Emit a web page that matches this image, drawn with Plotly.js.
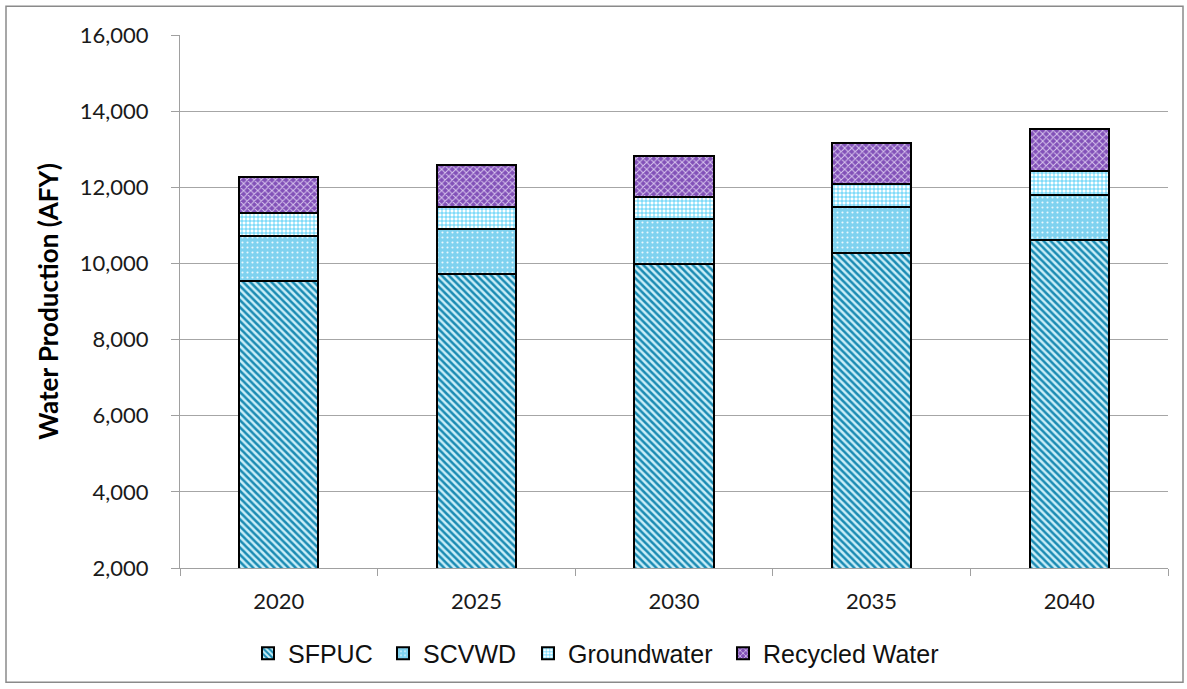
<!DOCTYPE html>
<html>
<head>
<meta charset="utf-8">
<script src="https://cdn.plot.ly/plotly-3.0.1.min.js"></script>
<style>
html,body{margin:0;padding:0;background:#fff;}
#chart{width:1187px;height:689px;}
</style>
</head>
<body>
<div id="chart"></div>
<script>
var years = ['2020', '2025', '2030', '2035', '2040'];
var sfpuc = [9550, 9730, 9990, 10280, 10620];
var scvwd = [1175, 1175, 1175, 1200, 1175];
var groundwater = [600, 575, 575, 600, 625];
var recycledWater = [940, 1095, 1095, 1095, 1100];
var seriesNames = ['SFPUC', 'SCVWD', 'Groundwater', 'Recycled Water'];
var yTicks = [2000, 4000, 6000, 8000, 10000, 12000, 14000, 16000];

var patterns = [
  {shape: '\\', bgcolor: '#c9eef8', fgcolor: '#1b8bb3', size: 5, solidity: 0.5},
  {shape: '.', bgcolor: '#7fd2ef', fgcolor: '#eaf8fd', size: 5, solidity: 0.15},
  {shape: '+', bgcolor: '#ffffff', fgcolor: '#35c6f4', size: 4, solidity: 0.35},
  {shape: 'x', bgcolor: '#8251b8', fgcolor: '#d8c6ee', size: 5, solidity: 0.35}
];
var fills = ['#5bb8d6', '#7fd2ef', '#9ee3fa', '#9d76c8'];
var allValues = [sfpuc, scvwd, groundwater, recycledWater];
var legendIds = ['legend', 'legend2', 'legend3', 'legend4'];

var traces = allValues.map(function (vals, i) {
  return {
    type: 'bar',
    name: seriesNames[i],
    x: years,
    y: vals,
    legend: legendIds[i],
    marker: {
      color: fills[i],
      pattern: patterns[i],
      line: {color: '#000000', width: 2}
    },
    hoverinfo: 'x+y+name'
  };
});

var L = 180, R = 19, T = 35, B = 118;
var W = 1187, H = 689;
var pw = W - L - R, ph = H - T - B;
function px2x(p) { return (p - L) / pw; }
function px2y(p) { return (H - B - p) / ph; }

var legendLeftPx = [248, 383, 528, 723];
function makeLegend(i) {
  return {
    orientation: 'h',
    x: px2x(legendLeftPx[i]), xanchor: 'left',
    y: px2y(657), yanchor: 'middle',
    font: {family: 'Liberation Sans, Arial, sans-serif', size: 25, color: '#111'},
    bgcolor: 'rgba(0,0,0,0)'
  };
}

var layout = {
  width: W, height: H,
  margin: {l: L, r: R, t: T, b: B, pad: 0},
  paper_bgcolor: '#ffffff',
  plot_bgcolor: '#ffffff',
  barmode: 'stack',
  bargap: 0.6,
  showlegend: true,
  legend: makeLegend(0),
  legend2: makeLegend(1),
  legend3: makeLegend(2),
  legend4: makeLegend(3),
  xaxis: {
    type: 'category',
    showline: true, linecolor: '#a0a0a0', linewidth: 1.3,
    ticks: 'outside', tickson: 'boundaries', ticklen: 7, tickcolor: '#a0a0a0', tickwidth: 1.3,
    showgrid: false,
    tickfont: {family: 'Lato, sans-serif', size: 22, color: '#1a1a1a'},
    ticklabelstandoff: 13
  },
  yaxis: {
    range: [2000, 16000],
    tickvals: yTicks,
    tickformat: ',',
    showline: true, linecolor: '#a0a0a0', linewidth: 1.3,
    ticks: 'outside', ticklen: 8, tickcolor: '#a0a0a0', tickwidth: 1.3,
    showgrid: true, gridcolor: '#a6a6a6', gridwidth: 1.2,
    zeroline: false,
    tickfont: {family: 'Lato, sans-serif', size: 22, color: '#1a1a1a'},
    ticklabelstandoff: 18,
    title: {
      text: 'Water Production (AFY)',
      font: {family: 'Lato, sans-serif', size: 26, color: '#000', weight: 'bold'},
      standoff: 13
    }
  },
  shapes: [{
    type: 'rect', xref: 'paper', yref: 'paper',
    x0: px2x(6), x1: px2x(1183), y0: px2y(686), y1: px2y(6),
    line: {color: '#8a8a8a', width: 1.5}, fillcolor: 'rgba(0,0,0,0)', layer: 'below'
  }]
};

Plotly.newPlot('chart', traces, layout, {displayModeBar: false});
</script>
</body>
</html>
